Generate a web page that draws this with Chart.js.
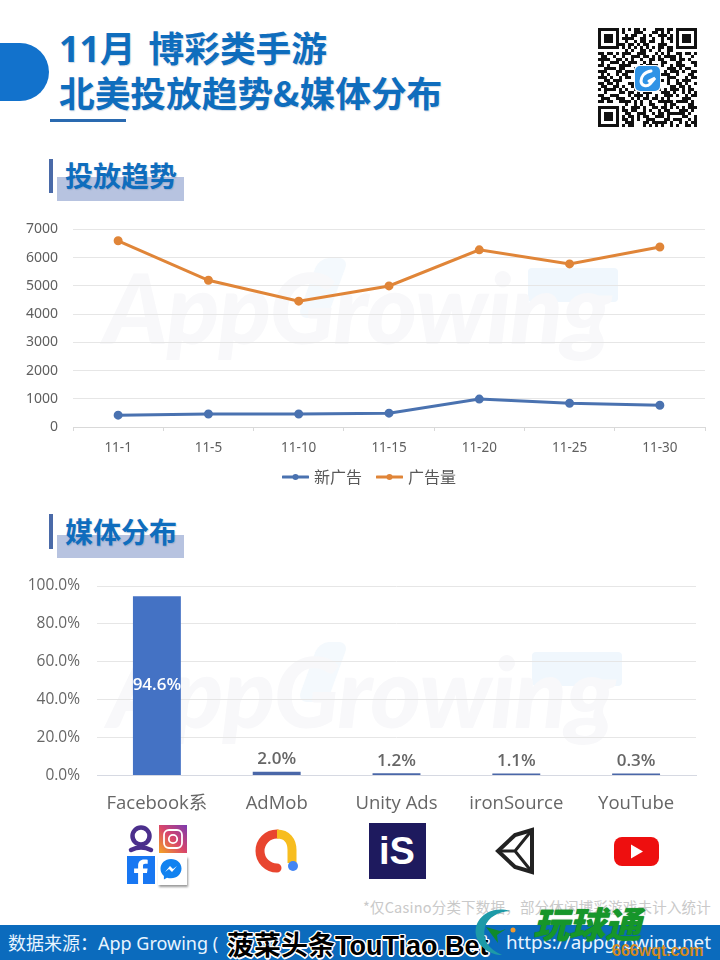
<!DOCTYPE html>
<html lang="zh-CN">
<head>
<meta charset="utf-8">
<script src="https://cdn.jsdelivr.net/npm/chart.js@4"></script>
<style>
html,body{margin:0;padding:0;background:#fff}
#page{position:relative;width:720px;height:960px;overflow:hidden;background:#fff;font-family:"Noto Sans CJK SC","Noto Sans",sans-serif}
.abs{position:absolute}
.t{position:absolute;white-space:nowrap;line-height:1}
.title{color:#0f6dbd;font-weight:700;font-size:35.700px;text-shadow:1px 1px 1px rgba(40,80,130,.2)}
.sec{color:#0f6dbd;font-weight:700;font-size:28px;text-shadow:1px 1px 1px rgba(40,80,130,.2)}
.wm{font-family:Lato,Roboto,sans-serif;font-weight:900;font-style:italic;font-size:97px;color:#f8f8fa;letter-spacing:-1px}
canvas{position:absolute}
</style>
</head>
<body>
<div id="page">
  <!-- header decoration -->
  <div class="abs" style="left:0;top:43px;width:49px;height:58px;background:#1272cc;border-radius:0 29px 29px 0"></div>
  <div class="t title" style="left:59px;top:29px"><span style="font-family:'Noto Sans','Noto Sans CJK SC'">11月</span><span style="margin-left:13px">博彩类手游</span></div>
  <div class="t title" style="left:59px;top:74px">北美投放趋势&amp;媒体分布</div>
  <div class="abs" style="left:50px;top:119px;width:76px;height:3px;background:#2a6ab0"></div>

  <svg id="qr" class="abs" style="left:597px;top:27px" width="100" height="100" viewBox="0 0 100 100"></svg>

  <!-- section 1 -->
  <div class="abs" style="left:49px;top:159px;width:4px;height:34px;background:#4a6aa8"></div>
  <div class="abs" style="left:57px;top:177px;width:127px;height:24px;background:#b7c3e0"></div>
  <div class="t sec" style="left:65px;top:161px">投放趋势</div>

  <!-- section 2 -->
  <div class="abs" style="left:49px;top:514px;width:4px;height:35px;background:#4a6aa8"></div>
  <div class="abs" style="left:57px;top:535px;width:127px;height:23px;background:#b7c3e0"></div>
  <div class="t sec" style="left:65px;top:517px">媒体分布</div>

  <!-- watermarks -->
  <div class="abs" style="left:308px;top:258px;width:30px;height:60px;background:#f4f9fd;transform:skewX(-20deg);border-radius:10px"></div>
  <div class="abs" style="left:528px;top:268px;width:90px;height:34px;background:#f0f7fd;border-radius:4px"></div>
  <div class="t wm" style="left:104px;top:258px">AppGrowing</div>
  <div class="abs" style="left:308px;top:642px;width:30px;height:60px;background:#f4f9fd;transform:skewX(-20deg);border-radius:10px"></div>
  <div class="abs" style="left:532px;top:652px;width:90px;height:34px;background:#f0f7fd;border-radius:4px"></div>
  <div class="t wm" style="left:108px;top:642px">AppGrowing</div>

  <canvas id="lineChart" style="left:0;top:215px" width="720" height="280"></canvas>
  <canvas id="barChart" style="left:0;top:570px" width="720" height="250"></canvas>

  <!-- media icons -->
  <svg class="abs" style="left:120px;top:820px" width="580" height="70" viewBox="120 820 580 70">
    <defs>
      <linearGradient id="ig" x1="0" y1="1" x2="1" y2="0">
        <stop offset="0" stop-color="#f5a623"/><stop offset=".5" stop-color="#d8456b"/><stop offset="1" stop-color="#7a3bb0"/>
      </linearGradient>
    </defs>
    <g fill="none" stroke="#4b2f8c" stroke-width="4.500">
      <circle cx="141" cy="836" r="8.500"/>
      <path d="M131 850c6-3 14-3 20 0" stroke-linecap="round"/>
    </g>
    <rect x="159" y="825" width="28" height="28" fill="url(#ig)"/>
    <rect x="164" y="830" width="18" height="18" rx="5" fill="none" stroke="#fff" stroke-width="1.800"/>
    <circle cx="173" cy="839" r="4.200" fill="none" stroke="#fff" stroke-width="1.800"/>
    <rect x="127" y="856" width="28" height="28" fill="#1877f2"/>
    <path d="M143 884v-11h4l.6-4.400H143v-2.700c0-1.300.4-2.100 2.200-2.100h2.500v-4c-.4 0-1.900-.2-3.600-.2-3.600 0-6 2.200-6 6.100v2.900h-4v4.400h4v11z" fill="#fff"/>
    <rect x="158" y="856" width="29" height="29" fill="#fff" style="filter:drop-shadow(1px 2px 1px rgba(0,0,0,.4))"/>
    <path d="M171 859c-6 0-10.500 4.300-10.500 9.800 0 3 1.300 5.500 3.400 7.300v3.300l3.100-1.700c1.200.4 2.600.6 4 .6 6 0 10.500-4.300 10.500-9.800S177 859 171 859z" fill="#1182f0"/>
    <path d="M165 872l5-6 3 3 4-3-5 6-3-3z" fill="#fff"/>
    <path d="M277 834a17 17 0 0 0-17 17 17 17 0 0 0 17 17" fill="none" stroke="#e8452f" stroke-width="9" stroke-linecap="round"/>
    <path d="M277 834c10 0 15 7 15 16v13" fill="none" stroke="#f7bd1f" stroke-width="9"/>
    <circle cx="293" cy="866" r="5" fill="#4285f4"/>
    <rect x="369" y="823" width="57" height="56" fill="#1e1a5e"/>
    <text x="397" y="864" text-anchor="middle" font-family="Liberation Sans" font-weight="700" font-size="38" fill="#fff">iS</text>
    <g fill="none" stroke="#222" stroke-width="4" stroke-linejoin="miter">
      <path d="M498 851l17-16 17-5v42l-17-5z"/>
      <path d="M498 851h17l17-21M515 851l17 21" stroke-width="3"/>
    </g>
    <rect x="614" y="837" width="45" height="29" rx="8" fill="#ee0f0f"/>
    <path d="M631 844.500l12 7-12 7z" fill="#fff"/>
  </svg>

  <div class="t" style="right:9px;top:900px;font-size:14.500px;color:#c9c9c9;letter-spacing:.2px">*仅Casino分类下数据，部分休闲博彩游戏未计入统计</div>

  <!-- footer -->
  <div class="abs" style="left:0;top:925px;width:720px;height:35px;background:#0b6bbd"></div>
  <div class="t" style="left:8px;top:933px;font-size:18px;color:#e8f4ff">数据来源：<span style="font-family:'Noto Sans'">App Growing (</span></div>
  <div class="t" style="right:9px;top:933px;font-size:18.800px;color:#e8f4ff;font-family:'Noto Sans'">https://appgrowing.net</div>

  <!-- overlaid site marks -->
  <div class="t" style="left:227px;top:930px;font-size:27px;font-weight:700;color:#000;text-shadow:-1.500px 0 #fff,1.500px 0 #fff,0 -1.500px #fff,0 1.500px #fff,-1px -1px #fff,1px 1px #fff,-1px 1px #fff,1px -1px #fff">菠菜头条<span style="font-family:'Liberation Sans'">TouTiao.Bet</span></div>
  <svg class="abs" style="left:470px;top:905px" width="70" height="55" viewBox="0 0 70 55">
    <path d="M40 6C20 0 3 14 6 30c2 12 14 20 26 20C18 44 12 34 15 22 18 12 28 7 40 6z" fill="#1d9aa8"/>
    <path d="M16 22l14 4 6-2-9 6 1 8-6-8z" fill="#0f8a2c"/>
    <circle cx="43" cy="25" r="2.500" fill="#f29a2e"/>
  </svg>
  <div class="t" style="left:533px;top:904px;font-size:36px;font-weight:900;font-style:italic;color:#16962a;text-shadow:0 0 1px #0d7a20">玩球通</div>
  <div class="t" style="left:612px;top:943px;font-size:16px;font-weight:700;color:#d38a22;font-family:'Liberation Sans'">666wqt.com</div>
</div>

<script>
// ---- line chart data ----
const dayLabels = ['11-1','11-5','11-10','11-15','11-20','11-25','11-30'];
const newAds = [420,460,460,490,990,840,770];
const adVolume = [6600,5200,4460,5000,6280,5780,6380];
const newAdsName = '新广告';
const adVolumeName = '广告量';

// ---- bar chart data ----
const mediaNames = ['Facebook系','AdMob','Unity Ads','ironSource','YouTube'];
const mediaShare = [94.6,2.0,1.2,1.1,0.3];

// ---- qr decoration rows ----
const qrRows = ['1FD5A3B7F','1051C6A41','174B29D5D','175E64B5D','17496C95D','1076B1C41','1FD555B7F','00A69300','1B5CE2A6D','0C93B57A2','1E6A4D9B4','09D728C63','1A3C5E971','07B1963AC','1C6E2B5D3','0A59D1E46','1D2C7438B','06E193A5C','1B47AD269','0CD26E1B4','17A9C35D6','0436B8E95','19C5D274B','0E72B6A1C','1B3D49F7A','00094C586','1FD3A6D57','105B2963A','174CE5BF4','1756B3A19','175A9C6E5','104E37D2B','1FD62A94D'];

const C = {blue:'#4a72b0', orange:'#e08538', grid:'#e6e6e6', axis:'#d9d9d9', tick:'#5f5f5f'};

function qrDraw(){
  const svg = document.getElementById('qr'), m = 3, n = 33;
  let d = '';
  qrRows.forEach((row,y)=>{
    const bits = parseInt(row,16).toString(2).padStart(n,'0');
    for(let x=0;x<n;x++){
      if(bits[x]==='1') d += 'M'+(x*m+1)+' '+(y*m+1)+'h'+m+'v'+m+'h-'+m+'z';
    }
  });
  const finder = (x,y)=>'<rect x="'+x+'" y="'+y+'" width="21" height="21" fill="#fff"/><rect x="'+(x+1.500)+'" y="'+(y+1.500)+'" width="18" height="18" fill="none" stroke="#111" stroke-width="3"/><rect x="'+(x+6)+'" y="'+(y+6)+'" width="9" height="9" fill="#111"/>';
  svg.innerHTML = '<path d="'+d+'" fill="#111"/>'+finder(1,1)+finder(79,1)+finder(1,79)+
    '<rect x="37" y="38" width="27" height="27" rx="5" fill="#fff"/><rect x="38" y="39" width="25" height="25" rx="5" fill="#2f93e6"/>'+
    '<path d="M54 44c-7 1-10 6-10 10 0 5 6 6 9 3l5-6-6 3" fill="none" stroke="#fff" stroke-width="3" stroke-linecap="round"/>';
}
qrDraw();

function legendMark(color){
  const c = document.createElement('canvas');
  c.width = 27; c.height = 8;
  const g = c.getContext('2d');
  g.strokeStyle = color; g.lineWidth = 3; g.lineCap='round';
  g.beginPath(); g.moveTo(1,4); g.lineTo(26,4); g.stroke();
  g.fillStyle = color; g.beginPath(); g.arc(13.500,4,3,0,Math.PI*2); g.fill();
  return c;
}

const legendShift = {
  id:'legendShift',
  afterLayout(chart){
    chart.legend.left += 18;
    chart.legend.right += 18;
  }
};

new Chart(document.getElementById('lineChart'),{
  type:'line',
  data:{labels:dayLabels,datasets:[
    {label:newAdsName,data:newAds,borderColor:C.blue,backgroundColor:C.blue,borderWidth:3,pointRadius:3,pointHoverRadius:3,tension:0},
    {label:adVolumeName,data:adVolume,borderColor:C.orange,backgroundColor:C.orange,borderWidth:3,pointRadius:3,pointHoverRadius:3,tension:0}
  ]},
  plugins:[legendShift],
  options:{
    responsive:false,animation:false,devicePixelRatio:1,
    layout:{padding:{left:0,right:15,top:14.500,bottom:0}},
    plugins:{
      tooltip:{enabled:false},
      legend:{position:'bottom',labels:{
        font:{family:'"Noto Sans CJK SC"',size:16},color:'#595959',boxWidth:27,boxHeight:8,usePointStyle:true,pointStyleWidth:21,padding:17,
        generateLabels(chart){
          return chart.data.datasets.map((ds,i)=>({text:ds.label,pointStyle:legendMark(ds.borderColor),datasetIndex:i,fontColor:'#595959',lineWidth:0,strokeStyle:'transparent',fillStyle:'transparent'}));
        }
      }}
    },
    scales:{
      x:{offset:true,
        afterFit(s){s.height=25;s.paddingLeft=0;s.paddingRight=0;},
        grid:{offset:true,drawOnChartArea:false,drawTicks:true,tickLength:4,color:C.axis},
        border:{color:C.axis},
        ticks:{color:C.tick,font:{family:'"Noto Sans"',size:13.500},padding:9,maxRotation:0,autoSkip:false}},
      y:{min:0,max:7000,
        afterFit(s){s.width=73;s.paddingTop=0;s.paddingBottom=0;},
        grid:{color:C.grid,drawTicks:false},
        border:{display:false},
        ticks:{stepSize:1000,color:C.tick,font:{family:'"Noto Sans"',size:14},padding:15,callback:v=>String(v)}}
    }
  }
});

const barLabels = {
  id:'barLabels',
  afterDatasetsDraw(chart){
    const g = chart.ctx, meta = chart.getDatasetMeta(0);
    g.save();
    g.textAlign='center';
    g.font='600 17px "Open Sans"';
    meta.data.forEach((bar,i)=>{
      const txt = mediaShare[i].toFixed(1)+'%';
      if(mediaShare[i]>50){
        g.fillStyle='#fff'; g.textBaseline='middle';
        g.fillText(txt,bar.x,(bar.y+bar.base)/2);
      }else{
        g.fillStyle='#666'; g.textBaseline='bottom';
        g.fillText(txt,bar.x,bar.y-4);
      }
    });
    g.restore();
  }
};

new Chart(document.getElementById('barChart'),{
  type:'bar',
  data:{labels:mediaNames,datasets:[{data:mediaShare,minBarLength:2,
    backgroundColor:['#4472c4','#4a67a8','#4a67a8','#4a67a8','#4a67a8'],
    barPercentage:1,categoryPercentage:0.4}]},
  plugins:[barLabels],
  options:{
    responsive:false,animation:false,devicePixelRatio:1,
    layout:{padding:{left:0,right:24,top:16,bottom:0}},
    plugins:{legend:{display:false},tooltip:{enabled:false}},
    scales:{
      x:{offset:true,
        afterFit(s){s.height=44.500;s.paddingLeft=0;s.paddingRight=0;},
        grid:{display:false},
        border:{color:'#d6d9e2'},
        ticks:{color:'#666',font:{family:'"Open Sans","Noto Sans CJK SC"',size:18.500},padding:9,maxRotation:0,autoSkip:false}},
      y:{min:0,max:100,
        afterFit(s){s.width=97;s.paddingTop=0;s.paddingBottom=0;},
        grid:{color:C.grid,drawTicks:false},
        border:{display:false},
        ticks:{stepSize:20,color:'#666',font:{family:'"Open Sans"',size:15.500},padding:17,callback:v=>v.toFixed(1)+'%'}}
    }
  }
});
</script>
</body>
</html>
